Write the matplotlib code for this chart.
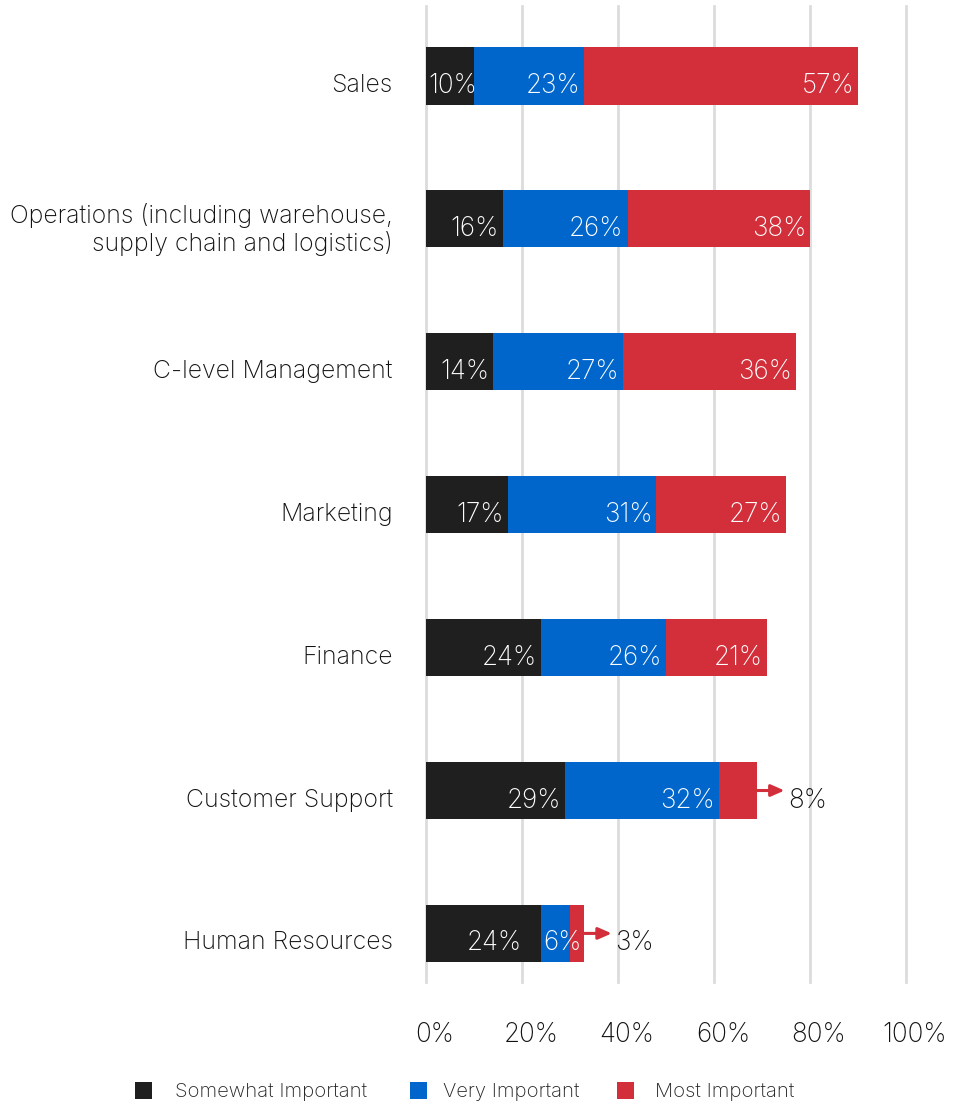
import matplotlib
matplotlib.use("Agg")
import matplotlib.pyplot as plt
from matplotlib.patches import Rectangle
from matplotlib.transforms import ScaledTranslation

plt.rcParams['font.family'] = ['Inter', 'DejaVu Sans']

departments = [
    "Sales",
    "Operations (including warehouse,\nsupply chain and logistics)",
    "C-level Management",
    "Marketing",
    "Finance",
    "Customer Support",
    "Human Resources",
]
somewhat = [10, 16, 14, 17, 24, 29, 24]
very = [23, 26, 27, 31, 26, 32, 6]
most = [57, 38, 36, 27, 21, 8, 3]

series_names = ["Somewhat Important", "Very Important", "Most Important"]
colors = ["#1f1f1f", "#0066cc", "#d22f3a"]
x_ticks = [0, 20, 40, 60, 80, 100]
x_tick_labels = ["0%", "20%", "40%", "60%", "80%", "100%"]

W, H = 956, 1107
FS_CAT = 17.9
FS_NUM = 18.8
fig = plt.figure(figsize=(W / 100, H / 100), dpi=100)
ax = fig.add_axes([426 / W, 1 - 982 / H, 480 / W, (982 - 6) / H])
down = ScaledTranslation(0, -7 / 100, fig.dpi_scale_trans)

ypos = list(range(len(departments)))
bar_h = 0.40
left = [0] * len(departments)
outside_threshold = 10
inside_labels = [[] for _ in departments]

for vals, col in zip([somewhat, very, most], colors):
    ax.barh(ypos, vals, left=left, height=bar_h, color=col, zorder=3)
    for i, (l, v) in enumerate(zip(left, vals)):
        end = l + v
        if v >= outside_threshold or col != colors[2]:
            t = ax.text(end, i, f"{v}%", ha="right", va="center_baseline",
                        color="white", fontsize=FS_NUM, fontweight="light", zorder=4,
                        transform=ax.transData + down)
            inside_labels[i].append((t, l, end))
        else:
            ax.annotate("", xy=(end + 5.7, i), xytext=(end, i),
                        arrowprops=dict(arrowstyle="-|>,head_length=0.8,head_width=0.35",
                                        color=col, lw=2.2, shrinkA=0, shrinkB=0),
                        zorder=4)
            ax.text(end + 6.5, i, f"{v}%", ha="left", va="center_baseline",
                    color="#111111", fontsize=FS_NUM, fontweight="light", zorder=4,
                    transform=ax.transData + down)
    left = [a + b for a, b in zip(left, vals)]

ax.set_xlim(0, 100)
ax.set_ylim(6.34, -0.49)
ax.set_xticks(x_ticks)
ax.set_xticklabels(x_tick_labels, fontweight="light", fontsize=FS_NUM)
ax.set_yticks(ypos)
ax.set_yticklabels(departments, linespacing=1.12, fontweight="light", fontsize=FS_CAT)
ax.tick_params(axis="both", length=0, colors="#111111")
ax.tick_params(axis="y", pad=24)
ax.tick_params(axis="x", pad=29)
right_shift = ScaledTranslation(9 / 100, 0, fig.dpi_scale_trans)
for lab in ax.get_xticklabels():
    lab.set_transform(lab.get_transform() + right_shift)
for lab in ax.get_yticklabels():
    lab.set_transform(lab.get_transform() + down)

for xv in x_ticks:
    ax.axvline(xv, color="#dcdcdc", linewidth=2, zorder=0, clip_on=False)
for s in ax.spines.values():
    s.set_visible(False)

# Fit the value labels inside their segments: right-aligned with a small
# pad, but never starting before the segment; earlier labels give way.
fig.canvas.draw()
renderer = fig.canvas.get_renderer()
to_px = ax.transData
pad = 4
gap = 21
for row in inside_labels:
    placed = []
    for t, l, end in row:
        w = t.get_window_extent(renderer).width
        x0 = to_px.transform((l, 0))[0]
        x1 = to_px.transform((end, 0))[0]
        right = max(x1 - pad, x0 + 2 + w)
        placed.append([t, right, w])
    for k in range(len(placed) - 2, -1, -1):
        nxt_left = placed[k + 1][1] - placed[k + 1][2]
        if placed[k][1] > nxt_left - gap:
            placed[k][1] = nxt_left - gap
    for t, right, w in placed:
        xd = to_px.inverted().transform((right, 0))[0]
        t.set_x(xd)

# Legend row along the bottom
legend_y = 1 - 1090 / H
sq = 17
for name, col, x_sq, x_txt in zip(series_names, colors, [135, 410, 617], [175, 443, 655]):
    fig.patches.append(Rectangle((x_sq / W, legend_y - sq / 2 / H), sq / W, sq / H,
                                 transform=fig.transFigure, facecolor=col,
                                 edgecolor="none"))
    fig.text(x_txt / W, legend_y, name, ha="left", va="center_baseline",
             fontsize=14.6, fontweight="light", color="#222222")

fig.savefig("out.png", dpi=100)
